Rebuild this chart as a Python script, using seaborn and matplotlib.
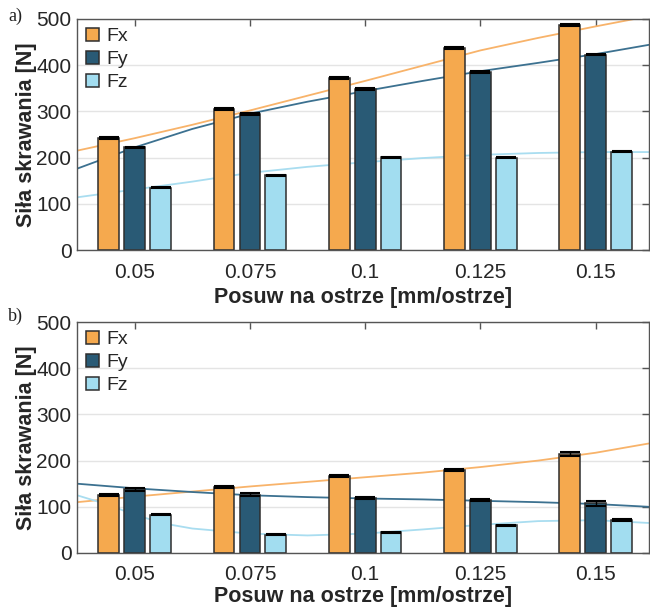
import numpy as np
import pandas as pd
import matplotlib
matplotlib.use("Agg")
import matplotlib.pyplot as plt
import seaborn as sns

# ---------------- data ----------------
feeds = ["0.05", "0.075", "0.1", "0.125", "0.15"]
forces = ["Fx", "Fy", "Fz"]

# panel a)
a_fx = [242, 305, 372, 437, 487]
a_fy = [222, 295, 348, 385, 423]
a_fz = [135, 162, 201, 200, 213]
a_fx_err = [2, 2, 2, 2, 2]
a_fy_err = [2, 2.5, 2, 2, 2]
a_fz_err = [1, 1, 1, 1, 1.5]

# panel b)
b_fx = [125, 143, 166, 180, 215]
b_fy = [138, 126, 119, 115, 108]
b_fz = [83, 40, 45, 60, 71]
b_fx_err = [2, 3, 2, 2, 4]
b_fy_err = [3, 3, 2, 2, 5.5]
b_fz_err = [1, 1.5, 1, 1, 2]

# trend lines, x in category-index units
trend_pos = [-0.5, 0, 0.5, 1, 1.5, 2, 2.5, 3, 3.5, 4, 4.46]
a_fx_trend = [215, 242, 271, 302, 334, 366, 399, 432, 459, 484, 506]
a_fy_trend = [176, 222, 262, 295, 321, 344, 366, 387, 405, 424, 444]
a_fz_trend = [114, 131, 148, 167, 180, 190, 199, 206, 210, 212, 212]
b_fx_trend = [110, 122, 133, 144, 154, 164, 174, 186, 200, 217, 237]
b_fy_trend = [150, 140, 132, 125, 121, 118, 116, 113, 110, 106, 100]
b_fz_trend_pos = [-0.5, -0.25, 0, 0.25, 0.5, 1, 1.5, 2, 2.5, 3, 3.5, 4, 4.46]
b_fz_trend = [125, 106, 83, 64, 53, 42, 38, 42, 51, 61, 69, 71, 65]

yticks = [0, 100, 200, 300, 400, 500]
xlabel = "Posuw na ostrze [mm/ostrze]"
ylabel = "Siła skrawania [N]"

bar_colors = {"Fx": "#F5A94E", "Fy": "#295A75", "Fz": "#A2DDF0"}
line_colors = {"Fx": "#F8B36A", "Fy": "#3C7190", "Fz": "#A9DDF0"}

# ---------------- style ----------------
sns.set_theme(style="white")
plt.rcParams['font.family'] = ['Liberation Sans', 'DejaVu Sans']

fig = plt.figure(figsize=(6.5, 6.08), dpi=100)
W, H = 650, 608
ax_a = fig.add_axes([77 / W, (H - 250) / H, 572 / W, 231 / H])
ax_b = fig.add_axes([77 / W, (H - 553) / H, 572 / W, 231 / H])


def panel(ax, fx, fy, fz, errs, trends, tag, tag_y, xlab_y):
    df = pd.DataFrame({
        "feed": feeds * 3,
        "force": [f for f in forces for _ in feeds],
        "value": fx + fy + fz,
    })
    sns.barplot(data=df, x="feed", y="value", hue="force", order=feeds,
                hue_order=forces, palette=bar_colors, saturation=1,
                width=0.675, gap=0.2, edgecolor="#2e2e2e", linewidth=1.1,
                errorbar=None, ax=ax, zorder=2)
    for cont, err in zip(ax.containers, errs):
        xs = [p.get_x() + p.get_width() / 2 for p in cont]
        ys = [p.get_height() for p in cont]
        ax.errorbar(xs, ys, yerr=err, fmt="none", ecolor="black",
                    elinewidth=1.0, capsize=7, capthick=1.5, zorder=3)
    for force, (pos, vals) in zip(forces, trends):
        ax.plot(pos, vals, color=line_colors[force], lw=1.3, zorder=1.5)

    ax.set_xlim(-0.5, 4.463)
    ax.set_ylim(0, 500)
    ax.set_yticks(yticks)
    ax.yaxis.grid(True, color="#e4e4e4", lw=1.0, zorder=0)
    ax.set_axisbelow(True)
    for s in ax.spines.values():
        s.set_color("#555555")
        s.set_linewidth(1.0)
    ax.tick_params(axis="both", direction="in", length=5, width=1,
                   color="#555555", labelcolor="#262626", labelsize=15,
                   top=True, right=True)
    ax.tick_params(axis="x", pad=9)
    ax.tick_params(axis="y", pad=4)
    ax.set_xlabel(xlabel, fontsize=15.5, fontweight="bold", color="#262626")
    ax.set_ylabel(ylabel, fontsize=15.5, fontweight="bold", color="#262626")
    ax.xaxis.set_label_coords(0.5, xlab_y)
    ax.yaxis.set_label_coords(-0.07, 0.5)

    handles, labels = ax.get_legend_handles_labels()
    ax.legend(handles[:3], labels[:3], loc="upper left", frameon=False,
              fontsize=14, handlelength=0.7, handleheight=0.7,
              handletextpad=0.35, labelspacing=0.28, borderpad=0.2,
              borderaxespad=0.25)
    fig.text(8 / W, 1 - tag_y / H, tag, family="Liberation Serif",
             fontsize=13, va="center", ha="left", color="#222222")


panel(ax_a, a_fx, a_fy, a_fz, [a_fx_err, a_fy_err, a_fz_err],
      [(trend_pos, a_fx_trend), (trend_pos, a_fy_trend), (trend_pos, a_fz_trend)],
      "a)", 16, -0.16)
panel(ax_b, b_fx, b_fy, b_fz, [b_fx_err, b_fy_err, b_fz_err],
      [(trend_pos, b_fx_trend), (trend_pos, b_fy_trend), (b_fz_trend_pos, b_fz_trend)],
      "b)", 316, -0.145)

fig.savefig("out.png", dpi=100)
